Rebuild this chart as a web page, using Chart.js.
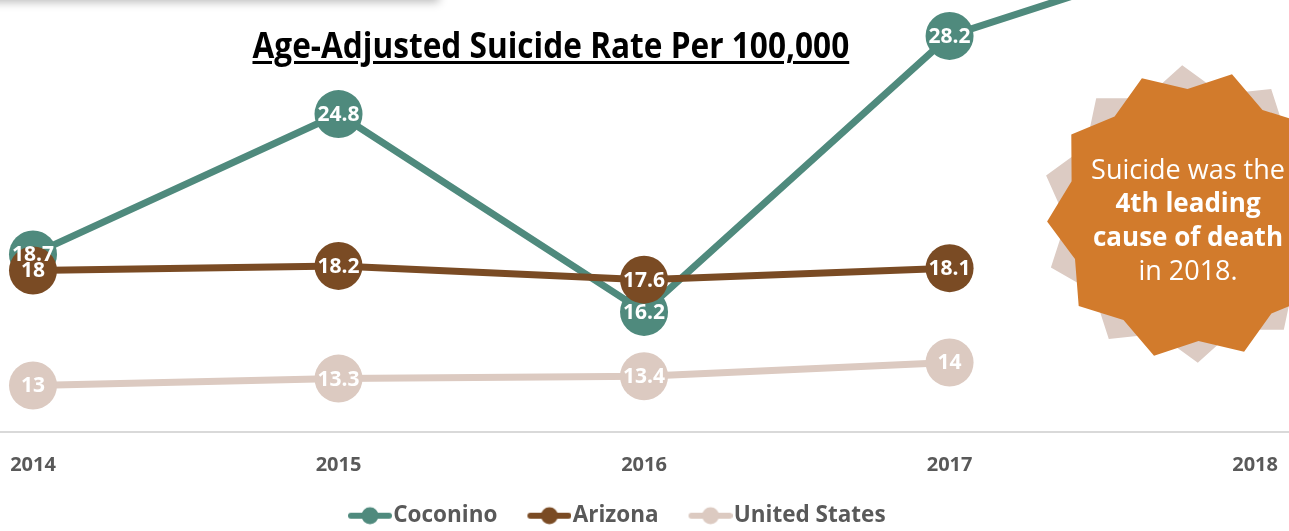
<!DOCTYPE html>
<html>
<head>
<meta charset="utf-8">
<script src="https://cdn.jsdelivr.net/npm/chart.js@4.4.1/dist/chart.umd.min.js"></script>
<style>
html,body{margin:0;padding:0;background:#fff;overflow:hidden;}
#wrap{position:relative;width:1289px;height:531px;overflow:hidden;background:#fff;}
#chartBox{position:absolute;left:0;top:0;width:1289px;height:531px;}
#topShadow{position:absolute;left:-20px;top:-40px;width:458px;height:40px;background:#fff;box-shadow:0 1px 9px 1px rgba(0,0,0,0.28);}
#title{position:absolute;top:27px;left:0;white-space:nowrap;font-family:'Open Sans',sans-serif;font-weight:700;font-size:36px;line-height:35px;color:#000;text-decoration:underline;text-decoration-thickness:2.5px;text-underline-offset:3px;transform-origin:50% 0;}
#burst{position:absolute;left:0;top:0;width:1289px;height:531px;pointer-events:none;}
#burstText{position:absolute;left:1038px;top:152px;width:300px;text-align:center;font-family:'Open Sans',sans-serif;font-size:27px;line-height:33px;color:#fff;white-space:nowrap;}
#burstText b{font-weight:700;font-size:26px;}
</style>
</head>
<body>
<div id="wrap">
  <div id="chartBox"><canvas id="c"></canvas></div>
  <div id="topShadow"></div>
  <div id="title">Age-Adjusted Suicide Rate Per 100,000</div>
  <svg id="burst" width="1289" height="531"><polygon id="starBack" fill="#DCCBC3"/><polygon id="starFront" fill="#D27B2C"/></svg>
  <div id="burstText">Suicide was the<br><b>4th leading</b><br><b>cause of death</b><br>in 2018.</div>
</div>
<script>
// ---- data ----
const years = [2014, 2015, 2016, 2017, 2018];
const seriesNames = ['Coconino', 'Arizona', 'United States'];
const coconino = [18.7, 24.8, 16.2, 28.2, 32.5];
const arizona = [18.0, 18.2, 17.6, 18.1, null];
const unitedStates = [13.0, 13.3, 13.4, 14.0, null];

// ---- styles ----
const seriesColors = ['#4F8A7D', '#7A4B24', '#DCCAC1'];
const drawOrder = [1, 0, 2];
const seriesValues = [coconino, arizona, unitedStates];

const toPoints = vals => years.map((yr, i) => ({ x: yr, y: vals[i] }));

function legendIcon(color) {
  const c = document.createElement('canvas');
  c.width = 80; c.height = 22;
  const g = c.getContext('2d');
  g.strokeStyle = color; g.lineWidth = 6; g.lineCap = 'round';
  g.beginPath(); g.moveTo(39, 11); g.lineTo(77, 11); g.stroke();
  g.fillStyle = color;
  g.beginPath(); g.arc(58, 11, 8.5, 0, Math.PI * 2); g.fill();
  return c;
}
const legendIcons = seriesColors.map(legendIcon);

const valueLabels = {
  id: 'valueLabels',
  afterDatasetsDraw(chart) {
    const ctx = chart.ctx;
    ctx.save();
    ctx.font = 'bold 21px "Open Sans"';
    ctx.fillStyle = '#ffffff';
    ctx.textAlign = 'center';
    ctx.textBaseline = 'middle';
    chart.data.datasets.forEach((ds, di) => {
      const meta = chart.getDatasetMeta(di);
      meta.data.forEach((pt, j) => {
        const v = ds.data[j].y;
        if (v === null || v === undefined) return;
        ctx.fillText(String(v), pt.x, pt.y + 1);
      });
    });
    ctx.restore();
  }
};

const legendNudge = {
  id: 'legendNudge',
  afterLayout(chart) {
    const l = chart.legend;
    if (!l || !l.lineWidths) return;
    const pad = l.options.labels.padding;
    const x0 = (l.left + pad + l.right - l.lineWidths[0]) / 2;
    const shift = 348 - (x0 + 26);
    l.left += shift; l.right += shift;
    l.top += 6; l.bottom += 6;
  }
};

new Chart(document.getElementById('c'), {
  type: 'line',
  data: {
    datasets: seriesNames.map((name, i) => ({
      label: name,
      data: toPoints(seriesValues[i]),
      borderColor: seriesColors[i],
      backgroundColor: seriesColors[i],
      pointBackgroundColor: seriesColors[i],
      pointBorderWidth: 0,
      pointRadius: 24,
      pointHoverRadius: 24,
      borderWidth: 7,
      tension: 0,
      clip: false,
      order: drawOrder[i]
    }))
  },
  options: {
    responsive: true,
    maintainAspectRatio: false,
    animation: false,
    events: [],
    layout: { padding: 0, autoPadding: false },
    scales: {
      x: {
        type: 'linear',
        min: 2013.892,
        max: 2018.111,
        afterBuildTicks: s => { s.ticks = years.map(v => ({ value: v })); },
        afterFit: s => { s.height = 63; s.paddingLeft = 0; s.paddingRight = 0; },
        grid: { display: false, drawTicks: false },
        border: { display: true, color: '#D9D9D9', width: 2 },
        ticks: {
          padding: 22,
          color: '#595959',
          font: { family: 'Open Sans', size: 20, weight: 'bold' },
          callback: v => String(v),
          maxRotation: 0,
          autoSkip: false
        }
      },
      y: { display: false, min: 11.0, max: 29.76 }
    },
    plugins: {
      tooltip: { enabled: false },
      legend: {
        position: 'bottom',
        labels: {
          usePointStyle: true,
          pointStyleWidth: 60,
          padding: 4,
          color: '#595959',
          font: { family: 'Open Sans', size: 22.5, weight: 'bold' },
          generateLabels: chart => chart.data.datasets.map((ds, i) => ({
            text: ds.label,
            pointStyle: legendIcons[i],
            fillStyle: ds.borderColor,
            strokeStyle: 'rgba(0,0,0,0)',
            lineWidth: 0,
            hidden: false,
            datasetIndex: i,
            fontColor: '#595959'
          }))
        }
      }
    }
  },
  plugins: [valueLabels, legendNudge]
});

// ---- title fit ----
function fitTitle() {
  const t = document.getElementById('title');
  t.style.transform = 'none';
  const w = t.offsetWidth;
  t.style.left = (551 - w / 2) + 'px';
  t.style.transform = 'scaleX(' + (597 / w) + ')';
}
fitTitle();
if (document.fonts && document.fonts.ready) document.fonts.ready.then(fitTitle);

// ---- starburst ----
function starPoints(cx, cy, rOut, rIn, n, rotDeg) {
  const pts = [];
  for (let k = 0; k < n * 2; k++) {
    const r = k % 2 === 0 ? rOut : rIn;
    const a = (rotDeg + k * 180 / n) * Math.PI / 180;
    pts.push((cx + r * Math.cos(a)).toFixed(1) + ',' + (cy - r * Math.sin(a)).toFixed(1));
  }
  return pts.join(' ');
}
document.getElementById('starBack').setAttribute('points', starPoints(1190, 214, 149, 124, 10, 21));
document.getElementById('starFront').setAttribute('points', starPoints(1193, 215, 146, 126, 10, 2.5));
</script>
</body>
</html>
